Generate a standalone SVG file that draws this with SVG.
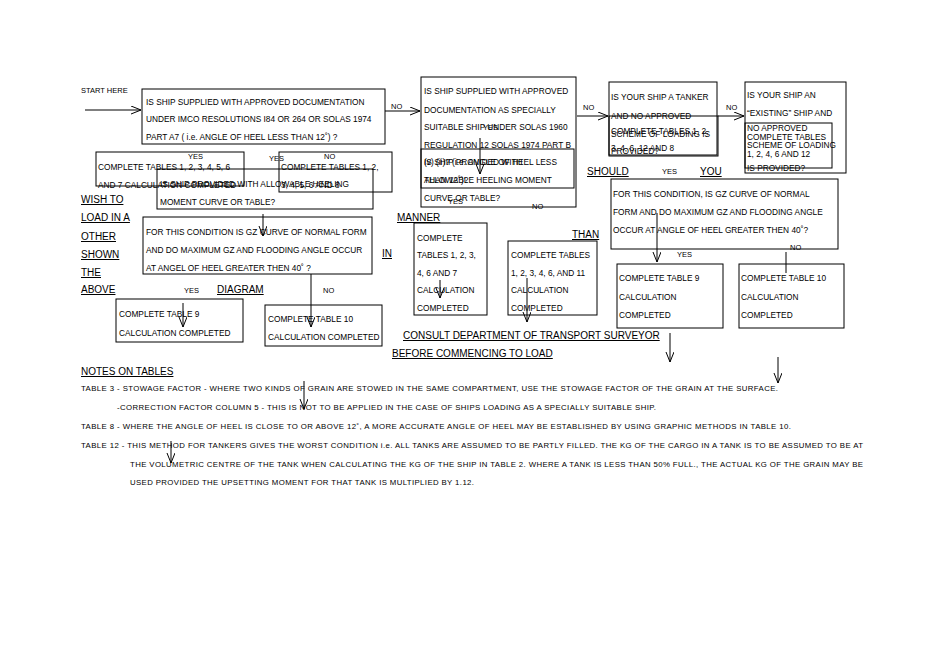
<svg xmlns="http://www.w3.org/2000/svg" width="950" height="672" viewBox="0 0 950 672">
<defs>
<marker id="ah" markerUnits="userSpaceOnUse" markerWidth="12" markerHeight="10" refX="10" refY="4" orient="auto">
<path d="M0,0 L10,4 L0,8" fill="none" stroke="#000" stroke-width="1"/>
</marker>
<style>
text{font-family:"Liberation Sans",Arial,sans-serif;fill:#000}
.t{font-size:8.3px}
.s{font-size:7.5px}
.u{font-size:10px;text-decoration:underline}
.n{font-size:7.8px}
rect{fill:none;stroke:#000;stroke-width:1}
.c line{stroke:#000;stroke-width:1}
.a{marker-end:url(#ah)}
</style>
</defs>
<rect x="0" y="0" width="950" height="672" style="fill:#fff;stroke:none"/>

<g id="start"><text class="s" x="81" y="93">START HERE</text></g>

<g id="q1">
<rect x="142" y="89" width="243" height="55"/>
<text class="t" x="146" y="105">IS SHIP SUPPLIED WITH APPROVED DOCUMENTATION</text>
<text class="t" x="146" y="122">UNDER IMCO RESOLUTIONS I84 OR 264 OR SOLAS 1974</text>
<text class="t" x="146" y="140">PART A7  ( i.e. ANGLE OF HEEL LESS THAN 12˚)  ?</text>
</g>

<g id="q2">
<rect x="421" y="77" width="155" height="130"/>
<text class="t" x="424" y="94">IS SHIP SUPPLIED WITH APPROVED</text>
<text class="t" x="424" y="113">DOCUMENTATION AS SPECIALLY</text>
<text class="t" x="424" y="130">SUITABLE SHIP UNDER SOLAS 1960</text>
<text class="t" x="424" y="148">REGULATION 12 SOLAS 1974 PART B</text>
<text class="t" x="424" y="165">(v) (ii)? (i.e. ANGLE OF HEEL  LESS</text>
<text class="t" x="424" y="183">THAN 12˚)?</text>
</g>
<g id="q2b">
<rect x="421" y="149" width="153" height="39"/>
<text class="t" x="424" y="165">IS SHIP PROVIDED WITH</text>
<text class="t" x="424" y="183">ALLOWABLE HEELING MOMENT</text>
<text class="t" x="424" y="201">CURVE OR TABLE?</text>
</g>

<g id="q3">
<rect x="609" y="82" width="108" height="73"/>
<text class="t" x="611" y="100">IS YOUR SHIP A TANKER</text>
<text class="t" x="611" y="119">AND NO APPROVED</text>
<text class="t" x="611" y="137">SCHEME OF LOADING IS</text>
<text class="t" x="611" y="154">PROVIDED?</text>
</g>
<g id="r3">
<rect x="609" y="116" width="109" height="40"/>
<text class="t" x="611" y="134">COMPLETE TABLES 1, 2,</text>
<text class="t" x="611" y="151">3, 4, 6, 12 AND 8</text>
</g>

<g id="q4">
<rect x="745" y="82" width="101" height="91"/>
<text class="t" x="747" y="98">IS YOUR SHIP AN</text>
<text class="t" x="747" y="116">“EXISTING” SHIP AND</text>
<text class="t" x="747" y="131">NO APPROVED</text>
<text class="t" x="747" y="148">SCHEME OF LOADING</text>
<text class="t" x="747" y="171">IS PROVIDED?</text>
</g>
<g id="r4">
<rect x="745" y="123" width="87" height="45"/>
<text class="t" x="747" y="139.5">COMPLETE TABLES</text>
<text class="t" x="747" y="156.5">1, 2, 4, 6 AND 12</text>
</g>

<g id="r1">
<rect x="96" y="152" width="148" height="34"/>
<text class="s" x="188" y="159">YES</text>
<text class="t" x="98" y="170">COMPLETE TABLES 1, 2, 3, 4, 5, 6</text>
<text class="t" x="98" y="188">AND 7 CALCULATION COMPLETED</text>
</g>
<g id="r2">
<rect x="279" y="152" width="113" height="40"/>
<text class="s" x="324" y="159">NO</text>
<text class="t" x="281" y="170">COMPLETE TABLES 1, 2,</text>
<text class="t" x="281" y="188">3, 4, 5, 6 AND 8</text>
</g>
<g id="q5">
<rect x="157" y="169" width="216" height="40"/>
<text class="t" x="160" y="187">IS SHIP PROVIDED WITH ALLOWABLE HEELING</text>
<text class="t" x="160" y="205">MOMENT CURVE OR TABLE?</text>
</g>

<g id="q6">
<rect x="143" y="217" width="229" height="57"/>
<text class="t" x="146" y="235">FOR THIS CONDITION IS GZ CURVE OF NORMAL FORM</text>
<text class="t" x="146" y="253">AND DO MAXIMUM GZ AND FLOODING ANGLE OCCUR</text>
<text class="t" x="146" y="271">AT ANGEL OF HEEL GREATER THEN 40˚ ?</text>
</g>

<g id="t9a">
<rect x="116" y="299" width="127" height="43"/>
<text class="t" x="119" y="317">COMPLETE TABLE 9</text>
<text class="t" x="119" y="336">CALCULATION COMPLETED</text>
</g>
<g id="t10a">
<rect x="265" y="305" width="117" height="41"/>
<text class="t" x="268" y="322">COMPLETE TABLE 10</text>
<text class="t" x="268" y="340">CALCULATION COMPLETED</text>
</g>

<g id="r5">
<rect x="414" y="223" width="73" height="92"/>
<text class="t" x="417" y="241">COMPLETE</text>
<text class="t" x="417" y="258">TABLES 1, 2, 3,</text>
<text class="t" x="417" y="276">4, 6 AND 7</text>
<text class="t" x="417" y="293">CALCULATION</text>
<text class="t" x="417" y="311">COMPLETED</text>
</g>
<g id="r6">
<rect x="508" y="241" width="89" height="74"/>
<text class="t" x="511" y="258">COMPLETE TABLES</text>
<text class="t" x="511" y="276">1, 2, 3, 4, 6, AND 11</text>
<text class="t" x="511" y="293">CALCULATION</text>
<text class="t" x="511" y="311">COMPLETED</text>
</g>

<g id="q7">
<rect x="611" y="179" width="227" height="70"/>
<text class="t" x="613" y="197">FOR THIS CONDITION, IS GZ CURVE OF NORMAL</text>
<text class="t" x="613" y="215">FORM AND DO MAXIMUM GZ AND FLOODING ANGLE</text>
<text class="t" x="613" y="233">OCCUR AT ANGLE OF HEEL GREATER THEN 40˚?</text>
</g>
<g id="t9b">
<rect x="617" y="264" width="106" height="64"/>
<text class="t" x="619" y="281">COMPLETE TABLE 9</text>
<text class="t" x="619" y="300">CALCULATION</text>
<text class="t" x="619" y="318">COMPLETED</text>
</g>
<g id="t10b">
<rect x="739" y="264" width="105" height="64"/>
<text class="t" x="741" y="281">COMPLETE TABLE 10</text>
<text class="t" x="741" y="300">CALCULATION</text>
<text class="t" x="741" y="318">COMPLETED</text>
</g>

<g id="side">
<text class="u" x="81" y="203">WISH TO</text>
<text class="u" x="81" y="221">LOAD IN A</text>
<text class="u" x="81" y="240">OTHER</text>
<text class="u" x="81" y="258">SHOWN</text>
<text class="u" x="81" y="276">THE</text>
<text class="u" x="81" y="293">ABOVE</text>
<text class="u" x="217" y="293">DIAGRAM</text>
<text class="u" x="397" y="221">MANNER</text>
<text class="u" x="382" y="257">IN</text>
<text class="u" x="572" y="238">THAN</text>
<text class="u" x="587" y="175">SHOULD</text>
<text class="u" x="700" y="175">YOU</text>
<text class="u" x="403" y="339">CONSULT DEPARTMENT OF TRANSPORT SURVEYOR</text>
<text class="u" x="392" y="357">BEFORE COMMENCING TO LOAD</text>
</g>

<g id="labels">
<text class="s" x="391" y="109">NO</text>
<text class="s" x="583" y="110">NO</text>
<text class="s" x="726" y="110">NO</text>
<text class="s" x="269" y="161">YES</text>
<text class="s" x="483" y="130">YES</text>
<text class="s" x="448" y="204">YES</text>
<text class="s" x="532" y="209">NO</text>
<text class="s" x="184" y="293">YES</text>
<text class="s" x="323" y="293">NO</text>
<text class="s" x="662" y="174">YES</text>
<text class="s" x="677" y="257">YES</text>
<text class="s" x="790" y="250">NO</text>
</g>

<g id="notes">
<text class="u" x="81" y="375">NOTES ON TABLES</text>
<text class="n" x="81" y="391" textLength="697">TABLE 3 - STOWAGE FACTOR - WHERE TWO KINDS OF GRAIN ARE STOWED IN THE SAME COMPARTMENT, USE THE STOWAGE FACTOR OF THE GRAIN AT THE SURFACE.</text>
<text class="n" x="117" y="410" textLength="539">-CORRECTION FACTOR COLUMN 5 - THIS IS NOT TO BE APPLIED IN THE CASE OF SHIPS LOADING AS A SPECIALLY SUITABLE SHIP.</text>
<text class="n" x="81" y="429" textLength="710">TABLE 8 - WHERE THE ANGLE OF HEEL IS CLOSE TO OR ABOVE 12˚, A MORE ACCURATE ANGLE OF HEEL MAY BE ESTABLISHED BY USING GRAPHIC METHODS IN TABLE 10.</text>
<text class="n" x="81" y="448" textLength="782">TABLE 12 - THIS METHOD FOR TANKERS GIVES THE WORST CONDITION i.e. ALL TANKS ARE ASSUMED TO BE PARTLY FILLED. THE KG OF THE CARGO IN A TANK IS TO BE ASSUMED TO BE AT</text>
<text class="n" x="130" y="467" textLength="733">THE VOLUMETRIC CENTRE OF THE TANK WHEN CALCULATING THE KG OF THE SHIP IN TABLE 2. WHERE A TANK IS LESS THAN 50% FULL., THE ACTUAL KG OF THE GRAIN MAY BE</text>
<text class="n" x="130" y="485" textLength="344">USED PROVIDED THE UPSETTING MOMENT FOR THAT TANK IS MULTIPLIED BY 1.12.</text>
</g>

<g id="connectors" class="c">
<line class="a" x1="85" y1="110" x2="141" y2="110"/>
<line class="a" x1="385" y1="111" x2="420" y2="111"/>
<line class="a" x1="577" y1="116" x2="608" y2="116"/>
<line class="a" x1="718" y1="116" x2="744" y2="116"/>
<line class="a" x1="480" y1="138" x2="480" y2="174"/>
<line class="a" x1="263" y1="214" x2="263" y2="236"/>
<line class="a" x1="311" y1="274" x2="311" y2="327"/>
<line class="a" x1="183" y1="303" x2="183" y2="327"/>
<line class="a" x1="440" y1="280" x2="440" y2="298"/>
<line class="a" x1="527" y1="278" x2="527" y2="322"/>
<line class="a" x1="657" y1="213" x2="657" y2="262"/>
<line x1="786" y1="252" x2="786" y2="273"/>
<line class="a" x1="670" y1="333" x2="670" y2="362"/>
<line class="a" x1="778" y1="357" x2="778" y2="383"/>
<line class="a" x1="304" y1="381" x2="304" y2="409"/>
<line class="a" x1="171" y1="441" x2="171" y2="463"/>
</g>
</svg>
